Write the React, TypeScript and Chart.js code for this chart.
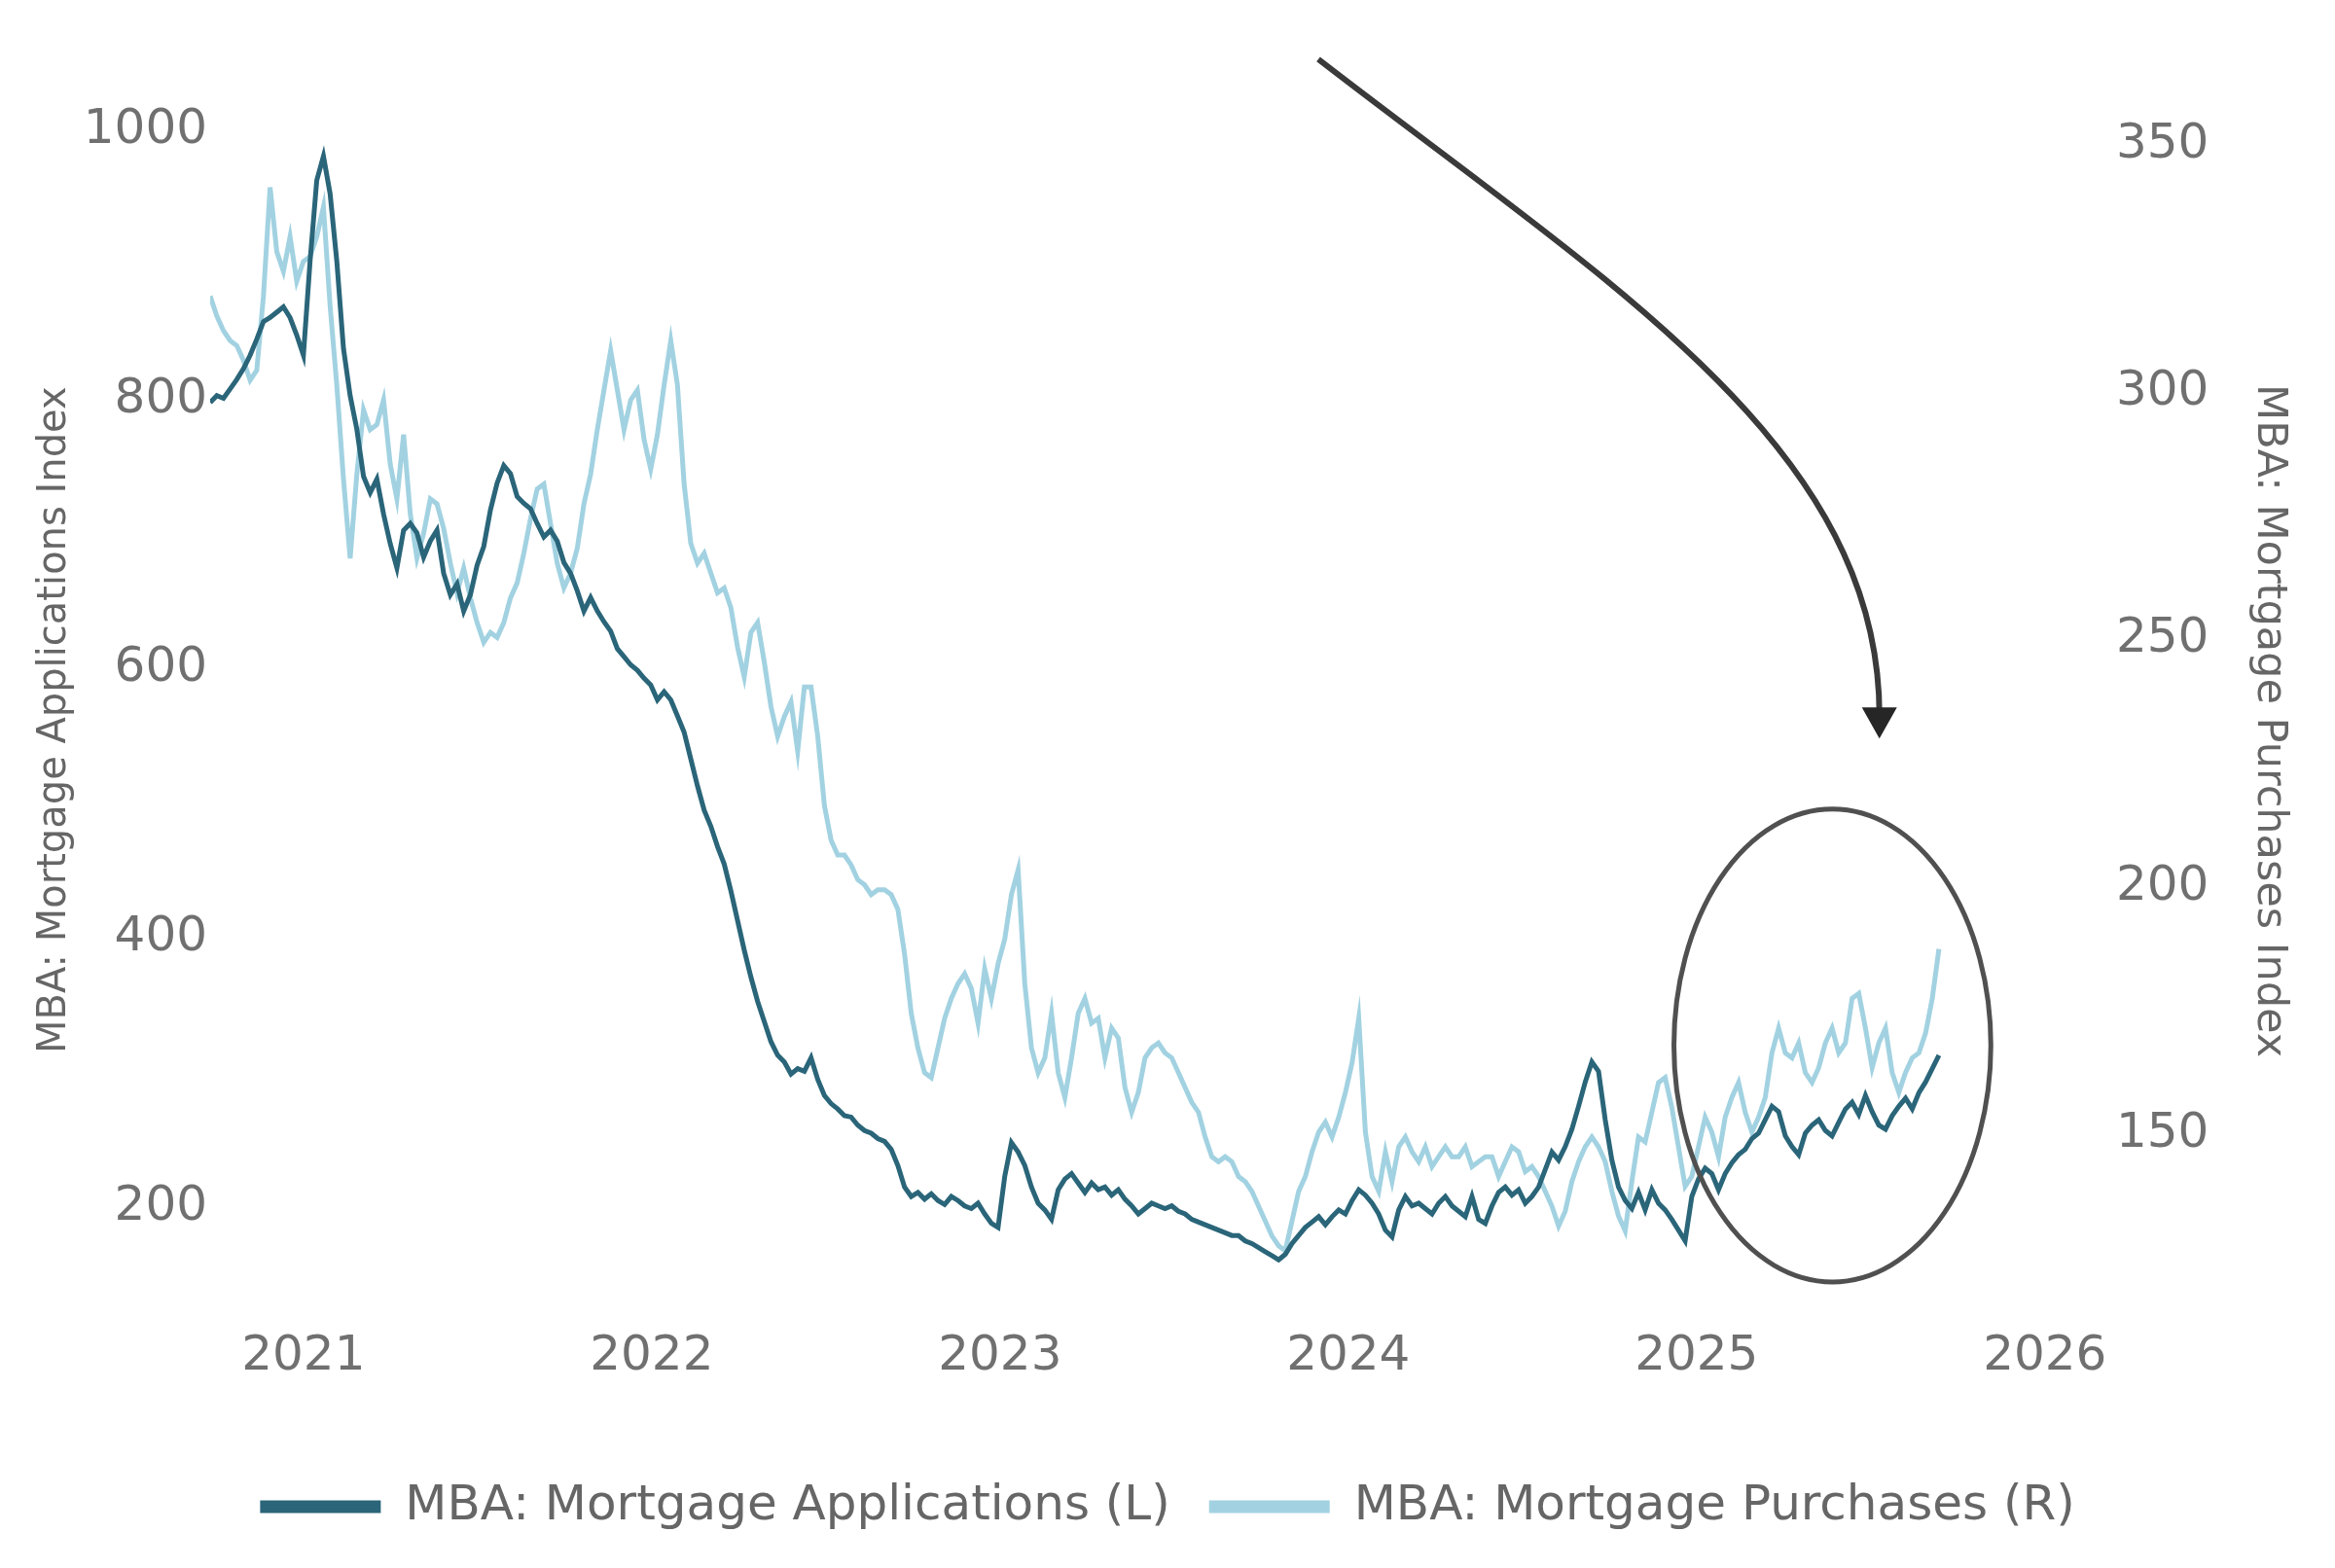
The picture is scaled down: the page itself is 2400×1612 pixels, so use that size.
import React, { useEffect, useRef } from 'react';
import { Chart, registerables } from 'chart.js';

Chart.register(...registerables);

// ---------- data ----------
const START_DATE = '2020-09-25'; // first weekly observation
const X_MAX_YEAR = 2026.185;
const X_TICK_VALUES = [2021, 2022, 2023, 2024, 2025, 2026];
const X_TICK_LABELS = ['2021', '2022', '2023', '2024', '2025', '2026'];
const LEFT_TICKS = [200, 400, 600, 800, 1000];
const RIGHT_TICKS = [150, 200, 250, 300, 350];
const LEFT_RANGE = [114.7, 1021.7];
const RIGHT_RANGE = [112.4, 359.2];
const SERIES_LABELS = ['MBA: Mortgage Applications (L)', 'MBA: Mortgage Purchases (R)'];
const AXIS_TITLES = ['MBA: Mortgage Applications Index', 'MBA: Mortgage Purchases Index'];

// MBA Mortgage Applications index (left axis), weekly
const APPLICATIONS = [
  795, 800, 798, 805, 812, 820, 830, 842, 855, 858,
  862, 866, 858, 845, 830, 900, 960, 978, 950, 900,
  835, 800, 775, 740, 728, 738, 712, 690, 672, 700,
  705, 698, 680, 692, 700, 668, 652, 660, 640, 652,
  674, 688, 715, 735, 748, 742, 725, 720, 716, 705,
  695, 700, 692, 676, 668, 655, 640, 650, 640, 632,
  625, 612, 606, 600, 596, 590, 585, 574, 580, 574,
  562, 550, 530, 510, 492, 480, 465, 452, 432, 410,
  388, 368, 350, 335, 320, 310, 305, 296, 300, 298,
  308, 292, 280, 274, 270, 265, 264, 258, 254, 252,
  248, 246, 240, 228, 212, 205, 208, 203, 207, 202,
  199, 205, 202, 198, 196, 200, 192, 185, 182, 220,
  245, 238, 228, 212, 200, 195, 188, 210, 218, 222,
  215, 208, 215, 210, 212, 206, 210, 203, 198, 192,
  196, 200, 198, 196, 198, 194, 192, 188, 186, 184,
  182, 180, 178, 176, 176, 172, 170, 167, 164, 161,
  158, 162, 170, 176, 182, 186, 190, 184, 190, 195,
  192, 202, 210, 206, 200, 192, 180, 175, 195, 205,
  198, 200, 196, 192, 200, 205, 198, 194, 190, 205,
  188, 185, 198, 208, 212, 206, 210, 200, 205, 212,
  225, 238, 232, 242, 255, 272, 290, 305, 298, 262,
  232, 212, 202, 196, 208, 195, 210, 200, 195, 188,
  180, 172, 205, 218, 226, 222, 210, 222, 230, 236,
  240, 248, 252, 262, 272, 268, 250, 242, 236, 252,
  258, 262, 254, 250, 260, 270, 275, 266, 280, 268,
  258, 255, 265, 272, 278, 270, 282, 290, 300, 310,
];

// MBA Mortgage Purchases index (right axis), weekly
const PURCHASES = [
  319, 315, 312, 310, 309, 306, 302, 304, 319, 341,
  328, 324, 331, 322, 326, 327, 331, 337, 317, 301,
  282, 266, 283, 296, 292, 293, 298, 285, 278, 291,
  275, 266, 271, 278, 277, 272, 265, 259, 264, 258,
  253, 249, 251, 250, 253, 258, 261, 267, 274, 280,
  281, 273, 265, 260, 263, 268, 277, 283, 292, 300,
  308, 300, 292, 298, 300, 290, 284, 291, 301, 310,
  301, 281, 269, 265, 267, 263, 259, 260, 256, 248,
  242, 251, 253, 245, 236, 230, 234, 237, 227, 240,
  240, 230, 216, 209, 206, 206, 204, 201, 200, 198,
  199, 199, 198, 195, 186, 174, 167, 162, 161, 167,
  173, 177, 180, 182, 179, 172, 183, 177, 184, 189,
  198, 203, 180, 167, 162, 165, 174, 162, 157, 165,
  174, 177, 172, 173, 165, 171, 169, 159, 154, 158,
  165, 167, 168, 166, 165, 162, 159, 156, 154, 149,
  145, 144, 145, 144, 141, 140, 138, 135, 132, 129,
  127, 126, 132, 138, 141, 146, 150, 152, 149, 153,
  158, 164, 173, 150, 141, 138, 146, 140, 147, 149,
  146, 144, 147, 143, 145, 147, 145, 145, 147, 143,
  144, 145, 145, 141, 144, 147, 146, 142, 143, 141,
  138, 135, 131, 134, 140, 144, 147, 149, 147, 144,
  138, 133, 130, 140, 149, 148, 154, 160, 161, 155,
  147, 139, 141, 147, 153, 150, 145, 153, 157, 160,
  154, 150, 153, 157, 166, 171, 166, 165, 168, 162,
  160, 163, 168, 171, 166, 168, 177, 178, 171, 163,
  168, 171, 162, 158, 162, 165, 166, 170, 177, 187,
];

// annotation (in data units: decimal year, right-axis value)
const ARROW_PATH: [number, number][] = [
  [2023.914, 366.9],
  [2024.746, 321.6],
  [2025.525, 288.6],
  [2025.525, 234.3],
];
const ELLIPSE_CENTER: [number, number] = [2025.39, 167.5];
const ELLIPSE_RADII: [number, number] = [0.455, 47.8];

// ---------- helpers ----------
function decimalYear(ms: number): number {
  const d = new Date(ms);
  const y = d.getUTCFullYear();
  const s = Date.UTC(y, 0, 1);
  const e = Date.UTC(y + 1, 0, 1);
  return y + (ms - s) / (e - s);
}
const START_MS = Date.parse(START_DATE + 'T00:00:00Z');
const WEEK_MS = 7 * 24 * 3600 * 1000;
const weekYears = (n: number) => Array.from({ length: n }, (_, i) => decimalYear(START_MS + i * WEEK_MS));

const FONT = "'DejaVu Sans', 'Verdana', sans-serif";
const DARK = '#2a6579';
const LIGHT = '#a2d2e1';
const TEXT = '#707070';

const annotationPlugin = {
  id: 'circleArrow',
  afterDatasetsDraw(chart: any) {
    const { ctx } = chart;
    const x = chart.scales.x;
    const y1 = chart.scales.y1;
    const px = (v: number) => x.getPixelForValue(v);
    const py = (v: number) => y1.getPixelForValue(v);
    ctx.save();
    // ellipse
    const cx = px(ELLIPSE_CENTER[0]);
    const cy = py(ELLIPSE_CENTER[1]);
    const rx = Math.abs(px(ELLIPSE_CENTER[0] + ELLIPSE_RADII[0]) - cx);
    const ry = Math.abs(py(ELLIPSE_CENTER[1] + ELLIPSE_RADII[1]) - cy);
    ctx.strokeStyle = '#505050';
    ctx.lineWidth = 5;
    ctx.beginPath();
    ctx.ellipse(cx, cy, rx, ry, 0, 0, Math.PI * 2);
    ctx.stroke();
    // arrow
    const p = ARROW_PATH.map(([a, b]) => [px(a), py(b)]);
    ctx.strokeStyle = '#3a3a3a';
    ctx.lineWidth = 6;
    ctx.beginPath();
    ctx.moveTo(p[0][0], p[0][1]);
    ctx.bezierCurveTo(p[1][0], p[1][1], p[2][0], p[2][1], p[3][0], p[3][1]);
    ctx.stroke();
    const [tx, ty] = p[3];
    ctx.fillStyle = '#262626';
    ctx.beginPath();
    ctx.moveTo(tx, ty + 24);
    ctx.lineTo(tx - 18, ty - 8);
    ctx.lineTo(tx + 18, ty - 8);
    ctx.closePath();
    ctx.fill();
    ctx.restore();
  },
};

export default function App() {
  const ref = useRef<HTMLCanvasElement | null>(null);

  useEffect(() => {
    document.body.style.margin = '0';
    const canvas = ref.current;
    if (!canvas) return;
    const years = weekYears(APPLICATIONS.length);
    const appData = APPLICATIONS.map((v, i) => ({ x: years[i], y: v }));
    const purData = PURCHASES.map((v, i) => ({ x: years[i], y: v }));

    const chart = new Chart(canvas, {
      type: 'line',
      data: {
        datasets: [
          {
            label: SERIES_LABELS[0],
            data: appData,
            yAxisID: 'y',
            borderColor: DARK,
            backgroundColor: DARK,
            borderWidth: 5,
            pointRadius: 0,
            tension: 0,
            fill: false,
          },
          {
            label: SERIES_LABELS[1],
            data: purData,
            yAxisID: 'y1',
            borderColor: LIGHT,
            backgroundColor: LIGHT,
            borderWidth: 5,
            pointRadius: 0,
            tension: 0,
            fill: false,
          },
        ],
      },
      options: {
        responsive: false,
        animation: false,
        devicePixelRatio: 1,
        parsing: false as any,
        layout: { padding: { top: 100, bottom: 28, left: 0, right: 0 } },
        plugins: {
          tooltip: { enabled: false },
          legend: {
            position: 'bottom',
            labels: {
              color: '#666666',
              font: { family: FONT, size: 50 },
              boxWidth: 124,
              boxHeight: 13,
              padding: 40,
              generateLabels: (c: any) =>
                (Chart.defaults.plugins.legend.labels.generateLabels as any)(c).map((l: any) => ({ ...l, lineWidth: 0 })),
            },
          },
        },
        scales: {
          x: {
            type: 'linear',
            min: decimalYear(START_MS),
            max: X_MAX_YEAR,
            grid: { display: false, drawTicks: false },
            border: { display: false },
            ticks: {
              color: TEXT,
              font: { family: FONT, size: 50 },
              padding: 10,
              maxRotation: 0,
              autoSkip: false,
              callback: (_v: any, i: number) => X_TICK_LABELS[i],
            },
            afterBuildTicks: (s: any) => {
              s.ticks = X_TICK_VALUES.map((v) => ({ value: v }));
            },
            afterFit: (s: any) => {
              s.height = 129;
            },
          },
          y: {
            type: 'linear',
            position: 'left',
            min: LEFT_RANGE[0],
            max: LEFT_RANGE[1],
            grid: { display: false, drawTicks: false },
            border: { display: false },
            ticks: {
              color: TEXT,
              font: { family: FONT, size: 50 },
              padding: 3,
              labelOffset: 4,
              callback: (_v: any, i: number) => String(LEFT_TICKS[i]),
            },
            afterBuildTicks: (s: any) => {
              s.ticks = LEFT_TICKS.map((v) => ({ value: v }));
            },
            title: {
              display: true,
              text: AXIS_TITLES[0] + '  ',
              color: '#666666',
              font: { family: FONT, size: 40 },
              padding: { top: 33, bottom: 0 },
            },
            afterFit: (s: any) => {
              s.width = 216;
            },
          },
          y1: {
            type: 'linear',
            position: 'right',
            min: RIGHT_RANGE[0],
            max: RIGHT_RANGE[1],
            grid: { display: false, drawTicks: false },
            border: { display: false },
            ticks: {
              color: TEXT,
              font: { family: FONT, size: 50 },
              padding: 7,
              labelOffset: 2,
              callback: (_v: any, i: number) => String(RIGHT_TICKS[i]),
            },
            afterBuildTicks: (s: any) => {
              s.ticks = RIGHT_TICKS.map((v) => ({ value: v }));
            },
            title: {
              display: true,
              text: '  ' + AXIS_TITLES[1],
              color: '#666666',
              font: { family: FONT, size: 43 },
              padding: { top: 42, bottom: 0 },
            },
            afterFit: (s: any) => {
              s.width = 232;
            },
          },
        },
      } as any,
      plugins: [annotationPlugin],
    });
    return () => chart.destroy();
  }, []);

  return (
    <div style={{ position: 'absolute', left: 0, top: 0, width: 2400, height: 1612, background: '#ffffff' }}>
      <canvas ref={ref} width={2400} height={1612} style={{ width: 2400, height: 1612, display: 'block' }} />
    </div>
  );
}
